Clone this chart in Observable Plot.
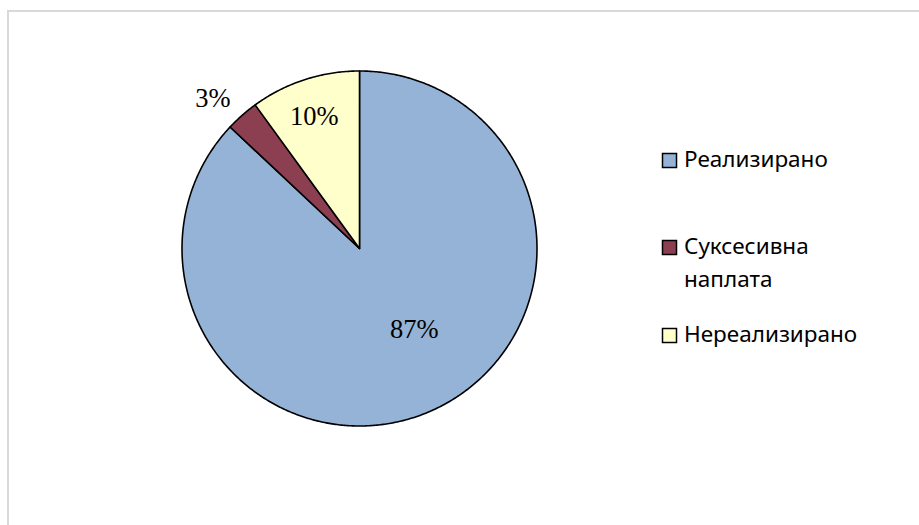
<!DOCTYPE html>
<html>
<head>
<meta charset="utf-8">
<script src="https://cdn.jsdelivr.net/npm/d3@7"></script>
<script src="https://cdn.jsdelivr.net/npm/@observablehq/plot@0.6"></script>
<style>
  html, body { margin: 0; padding: 0; background: #fff; overflow: hidden; }
  #wrap { position: relative; width: 919px; height: 525px; }
  #border { position: absolute; left: 7px; top: 10px; width: 2000px; height: 2000px; border: 2px solid #d9d9d9; }
  #chart, #legend { position: absolute; left: 0; top: 0; }
</style>
</head>
<body>
<div id="wrap">
  <div id="border"></div>
  <div id="chart"></div>
  <svg id="legend" width="919" height="525"></svg>
</div>
<script>
// Data
const categories = ["Реализирано", "Суксесивна наплата", "Нереализирано"];
const values = [87, 3, 10];
const labels = ["87%", "3%", "10%"];
const colors = ["#95b3d7", "#8c3f51", "#ffffcc"];
const legendLines = [["Реализирано"], ["Суксесивна", "наплата"], ["Нереализирано"]];

// Geometry helpers (unit circle, angle 0 at 12 o'clock, clockwise)
const arcs = d3.pie().sort(null).value(d => d)(values);
const slicePoints = [];
arcs.forEach((a, i) => {
  slicePoints.push({cat: categories[i], x: 0, y: 0});
  const n = Math.max(4, Math.ceil((a.endAngle - a.startAngle) / (Math.PI / 360)));
  for (let k = 0; k <= n; k++) {
    const t = a.startAngle + (a.endAngle - a.startAngle) * k / n;
    slicePoints.push({cat: categories[i], x: Math.sin(t), y: Math.cos(t)});
  }
});

const labelRadius = [0.55, 1.163, 0.79];
const labelDx = [16, -10, -2];
const labelDy = [-9, 5, 1];
const labelData = arcs.map((a, i) => {
  const m = (a.startAngle + a.endAngle) / 2;
  return {text: labels[i], x: Math.sin(m) * labelRadius[i], y: Math.cos(m) * labelRadius[i], i};
});

const cx = 359, cy = 248, r = 177.5;
const chart = Plot.plot({
  width: 919,
  height: 525,
  margin: 0,
  style: {background: "transparent", overflow: "visible"},
  x: {domain: [-1, 1], range: [cx - r, cx + r], axis: null},
  y: {domain: [-1, 1], range: [cy + r, cy - r], axis: null},
  color: {domain: categories, range: colors},
  marks: [
    Plot.line(slicePoints, {x: "x", y: "y", z: "cat", fill: "cat", stroke: "#000", strokeWidth: 1.6, strokeLinejoin: "round", curve: "linear-closed"}),
    ...labelData.map(d => Plot.text([d], {x: "x", y: "y", text: "text", dx: labelDx[d.i], dy: labelDy[d.i], fontFamily: "Liberation Serif", fontSize: 26.5, fill: "#000"}))
  ]
});
document.getElementById("chart").appendChild(chart);

// Legend
const lg = d3.select("#legend");
const sqTop = [153, 240, 328];
const baselines = [[167], [254, 287], [342]];
categories.forEach((c, i) => {
  lg.append("rect").attr("x", 662.5).attr("y", sqTop[i] + 0.5).attr("width", 14).attr("height", 14)
    .attr("fill", colors[i]).attr("stroke", "#000").attr("stroke-width", 1.5);
  legendLines[i].forEach((t, j) => {
    lg.append("text").attr("x", 684).attr("y", baselines[i][j]).text(t)
      .attr("font-family", "Noto Sans").attr("font-size", 22.5).attr("fill", "#000");
  });
});
</script>
</body>
</html>
